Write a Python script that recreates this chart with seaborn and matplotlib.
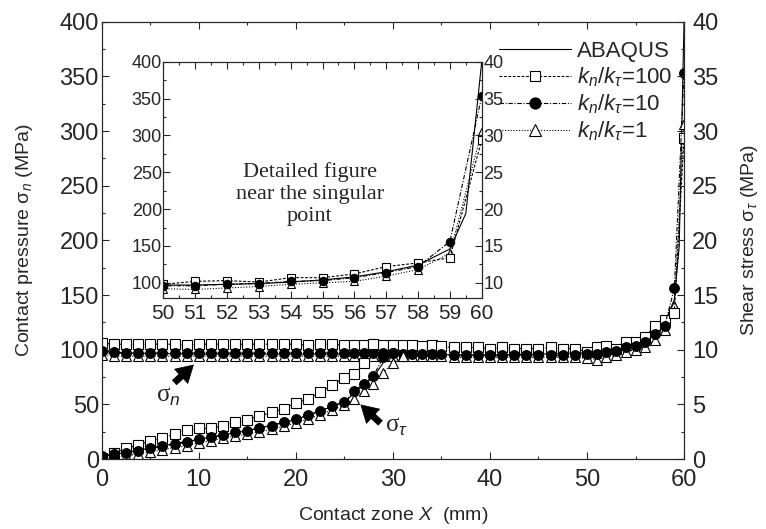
import numpy as np
import pandas as pd
import seaborn as sns
import matplotlib.pyplot as plt
from matplotlib.ticker import MultipleLocator
from matplotlib.lines import Line2D

# == Data == #

# node positions along the contact zone (mm)
x_node = [0, 1.25, 2.5, 3.75, 5, 6.25, 7.5, 8.75, 10, 11.25, 12.5, 13.75, 15,
          16.25, 17.5, 18.75, 20, 21.25, 22.5, 23.75, 25,
          26, 27, 28, 29, 30, 31, 32, 33, 34, 35,
          36.25, 37.5, 38.75, 40, 41.25, 42.5, 43.75, 45, 46.25, 47.5, 48.75,
          50, 51, 52, 53, 54, 55, 56, 57, 58, 59, 60]

# contact pressure sigma_n (MPa)
sn_100 = [106, 105, 105, 105, 105, 105, 105, 104, 105, 105, 105, 105, 105,
          105, 105, 105, 105, 104, 105, 105, 104,
          104, 104, 105, 104, 104, 104, 104, 103, 104, 103,
          102, 102, 102, 101, 102, 101, 101, 101, 102, 101, 101,
          98, 102, 103, 101, 107, 107, 112, 122, 127, 134, 294]
sn_10 = [99, 98, 97, 97, 97, 97, 97, 97, 97, 97, 97, 97, 97,
         97, 97, 97, 97, 97, 97, 97, 97,
         97, 97, 97, 97, 97, 96, 96, 96, 96, 96,
         95, 95, 95, 95, 95, 95, 95, 95, 95, 95, 95,
         96, 96, 98, 99, 102, 103, 107, 114, 122, 156, 353]
sn_1 = [95, 94, 94, 94, 94, 94, 94, 94, 94, 94, 94, 94, 94,
        94, 94, 94, 94, 94, 94, 94, 94,
        94, 94, 94, 94, 94, 94, 94, 94, 94, 94,
        93, 93, 93, 93, 93, 93, 93, 93, 93, 93, 93,
        92, 91, 93, 95, 98, 100, 102, 109, 118, 140, 306]

x_abq = [0, 10, 20, 30, 40, 50, 51, 52, 53, 54, 55, 56, 57, 58, 59, 59.5, 60]
sn_abq = [97, 96, 96, 96, 95, 97, 97, 98, 99, 101, 104, 108, 115, 124, 146, 194, 400]

# shear stress sigma_tau (MPa), stick zone (slip zone coincides with sigma_n)
xt_100 = [0, 1.25, 2.5, 3.75, 5, 6.25, 7.5, 8.75, 10, 11.25, 12.5, 13.75, 15,
          16.25, 17.5, 18.75, 20, 21.25, 22.5, 23.75, 25, 26, 27, 28]
st_100 = [0.1, 0.55, 0.97, 1.28, 1.67, 1.92, 2.28, 2.65, 2.8, 2.8, 3.04, 3.35, 3.59,
          3.95, 4.26, 4.62, 5.1, 5.5, 6.1, 6.75, 7.45, 7.75, 8.8, 10.5]
xt_10 = [0, 1.25, 2.5, 3.75, 5, 6.25, 7.5, 8.75, 10, 11.25, 12.5, 13.75, 15,
         16.25, 17.5, 18.75, 20, 21.25, 22.5, 23.75, 25, 26, 27, 28, 29, 30]
st_10 = [0.3, 0.46, 0.55, 0.76, 0.97, 1.16, 1.37, 1.52, 1.82, 1.98, 2.22, 2.43, 2.58,
         2.83, 3.04, 3.35, 3.65, 4.0, 4.4, 4.86, 5.23, 6.2, 6.9, 7.6, 9.3, 9.7]
xt_1 = [0, 1.25, 2.5, 3.75, 5, 6.25, 7.5, 8.75, 10, 11.25, 12.5, 13.75, 15,
        16.25, 17.5, 18.75, 20, 21.25, 22.5, 23.75, 25, 26, 27, 28, 29, 30, 31]
st_1 = [0.0, 0.2, 0.3, 0.45, 0.65, 0.85, 1.05, 1.2, 1.5, 1.65, 1.9, 2.1, 2.25,
        2.5, 2.7, 3.0, 3.3, 3.65, 4.05, 4.5, 4.9, 5.5, 6.2, 6.9, 7.9, 8.8, 9.4]
xt_abq = [0, 5, 10, 15, 20, 25, 26, 27, 28, 29, 30]
st_abq = [0.2, 1.0, 1.8, 2.6, 3.6, 5.2, 6.0, 6.8, 7.5, 8.8, 9.6]

# == Style == #

sns.set_style('ticks')
plt.rcParams['font.family'] = ['Liberation Sans', 'DejaVu Sans']
plt.rcParams['mathtext.fontset'] = 'custom'
plt.rcParams['mathtext.rm'] = 'Liberation Sans'
plt.rcParams['mathtext.it'] = 'Liberation Sans:italic'
plt.rcParams['xtick.direction'] = 'in'
plt.rcParams['ytick.direction'] = 'in'

STY = {
    'abq': dict(linestyle='-', marker=None),
    '100': dict(linestyle=(0, (2.5, 1.5)), marker='s', markerfacecolor='white'),
    '10': dict(linestyle=(0, (4, 1.5, 1, 1.5)), marker='o', markerfacecolor='black'),
    '1': dict(linestyle=(0, (1, 1.5)), marker='^', markerfacecolor='white'),
}


def draw(ax, x, y, key, ms=7):
    sns.lineplot(x=x, y=y, ax=ax, color='k', lw=0.8, markersize=ms,
                 markeredgecolor='k', markeredgewidth=0.8, legend=False,
                 **STY[key])
    if key == '100':
        sns.scatterplot(x=x, y=y, ax=ax, color='k', marker='.', s=3,
                        linewidth=0, legend=False)


def style_axis(ax, size, pad=3):
    ax.tick_params(which='major', length=5, width=0.8, labelsize=size, pad=pad)
    ax.tick_params(which='minor', length=2.5, width=0.8)
    for s in ax.spines.values():
        s.set_linewidth(0.8)
        s.set_visible(True)


fig = plt.figure(figsize=(7.66, 5.29), dpi=100)
ax = fig.add_axes([0.1328, 0.1323, 0.7602, 0.8267])
ax2 = ax.twinx()

# main plot: sigma_n on left axis, sigma_tau on right axis
draw(ax, x_abq, sn_abq, 'abq')
draw(ax, x_node, sn_1, '1')
draw(ax, x_node, sn_100, '100')
draw(ax, x_node, sn_10, '10')
draw(ax2, xt_abq, st_abq, 'abq')
draw(ax2, xt_1, st_1, '1')
draw(ax2, xt_100, st_100, '100')
draw(ax2, xt_10, st_10, '10')

ax.set_xlim(0, 60)
ax.set_ylim(0, 400)
ax2.set_ylim(0, 40)
ax.xaxis.set_major_locator(MultipleLocator(10))
ax.xaxis.set_minor_locator(MultipleLocator(5))
ax.yaxis.set_major_locator(MultipleLocator(50))
ax.yaxis.set_minor_locator(MultipleLocator(25))
ax2.yaxis.set_major_locator(MultipleLocator(5))
ax2.yaxis.set_minor_locator(MultipleLocator(2.5))
ax.tick_params(axis='x', which='both', top=True)
style_axis(ax, 17, pad=2)
ax.tick_params(axis='x', pad=7)
style_axis(ax2, 17, pad=6)

ax.set_xlabel('Contact zone $X$  (mm)', fontsize=14, labelpad=10)
ax.set_ylabel('Contact pressure σ$_n$ (MPa)', fontsize=14, labelpad=18)
ax2.set_ylabel('Shear stress σ$_τ$ (MPa)', fontsize=14, labelpad=15)

# arrows and labels
arw = dict(arrowstyle='simple,head_length=0.6,head_width=0.7,tail_width=0.22',
           fc='k', ec='k', lw=0.5, shrinkA=0, shrinkB=0, mutation_scale=20)
ax.annotate('', xy=(9.45, 86), xytext=(7.5, 70), arrowprops=arw)
ax.annotate('', xy=(26.7, 49.5), xytext=(28.7, 33), arrowprops=arw)
ax.text(6.9, 57, 'σ$_n$', fontsize=18, family=['Liberation Serif'],
        ha='center', va='center')
ax.text(30.4, 29, 'σ$_τ$', fontsize=18, family=['Liberation Serif'],
        ha='center', va='center')

# legend
handles = [
    Line2D([], [], color='k', lw=0.8, **STY['abq']),
    Line2D([], [], color='k', lw=0.8, markersize=7, markeredgecolor='k',
           markeredgewidth=0.8, **STY['100']),
    Line2D([], [], color='k', lw=0.8, markersize=8, markeredgecolor='k',
           markeredgewidth=0.8, **STY['10']),
    Line2D([], [], color='k', lw=0.8, markersize=8, markeredgecolor='k',
           markeredgewidth=0.8, **STY['1']),
]
labels = ['ABAQUS', '$k_n/k_τ$=100', '$k_n/k_τ$=10', '$k_n/k_τ$=1']
ax2.legend(handles, labels, loc='upper left', bbox_to_anchor=(0.652, 0.922),
           bbox_transform=fig.transFigure, frameon=False, fontsize=16,
           handlelength=3.2, handletextpad=0.3, labelspacing=0.15,
           borderpad=0, borderaxespad=0)

# == Inset: detail near the singular point == #
axi = fig.add_axes([0.2132, 0.4361, 0.4157, 0.4473])
axi.set_facecolor('white')
axi2 = axi.twinx()
draw(axi, x_abq, sn_abq, 'abq', ms=6)
draw(axi, x_node, sn_1, '1', ms=6)
draw(axi, x_node, sn_100, '100', ms=6)
draw(axi, x_node, sn_10, '10', ms=6)
axi.set_xlim(50, 60)
axi.set_ylim(79, 400)
axi2.set_ylim(7.9, 40)
axi.xaxis.set_major_locator(MultipleLocator(1))
axi.xaxis.set_minor_locator(MultipleLocator(0.5))
axi.yaxis.set_major_locator(MultipleLocator(50))
axi.yaxis.set_minor_locator(MultipleLocator(25))
axi2.yaxis.set_major_locator(MultipleLocator(5))
axi2.yaxis.set_minor_locator(MultipleLocator(2.5))
axi.tick_params(axis='x', which='both', top=True)
style_axis(axi, 13, pad=1)
axi.tick_params(axis='x', labelsize=15, pad=4)
style_axis(axi2, 13, pad=1)
axi.set_xlabel('')
axi.set_ylabel('')
axi2.set_ylabel('')
axi.text(0.46, 0.44, 'Detailed figure\nnear the singular\npoint',
         transform=axi.transAxes, ha='center', va='center', fontsize=16,
         family=['Liberation Serif'], linespacing=1.2)

fig.savefig('out.png', dpi=100)
